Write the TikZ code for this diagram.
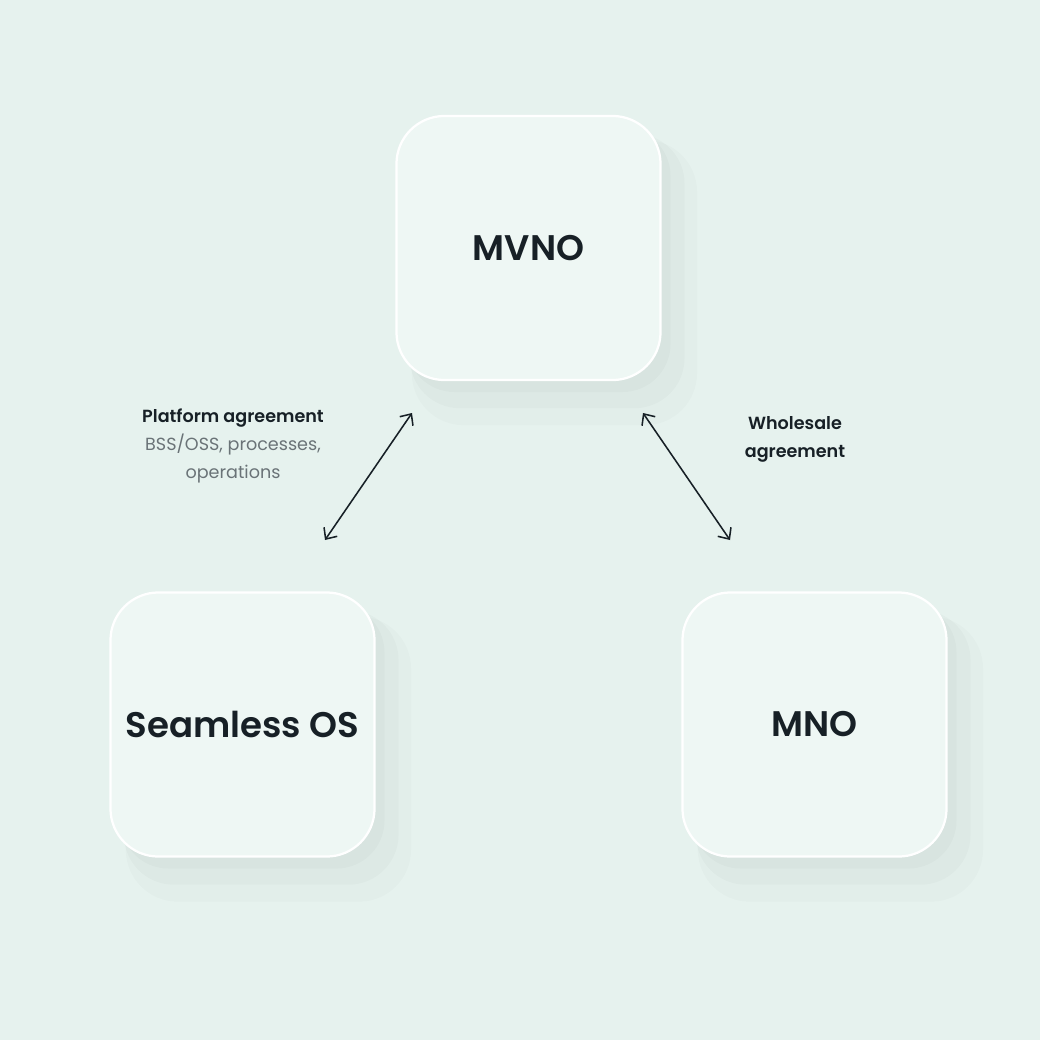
\documentclass[tikz,border=0pt]{standalone}
\usepackage{fontspec}
\setmainfont{Poppins}[BoldFont=Poppins SemiBold]
\usepackage{tikz}
\usetikzlibrary{arrows.meta, positioning, shadows}

\definecolor{bgmint}{HTML}{E6F2EE}
\definecolor{boxfill}{HTML}{EEF7F4}
\definecolor{inkdark}{HTML}{172026}
\definecolor{inkgray}{HTML}{6A7377}

\tikzset{
  tile/.style={draw=white, line width=1.6pt, fill=boxfill, rounded corners=1.2cm,
    minimum width=6.6cm, minimum height=6.6cm, text=inkdark,
    font=\fontsize{25.3}{30}\selectfont\bfseries,
    drop shadow={shadow xshift=0.6cm, shadow yshift=-0.8cm, shadow scale=1.08, opacity=0.015, fill=black},
    drop shadow={shadow xshift=0.45cm, shadow yshift=-0.55cm, shadow scale=1.04, opacity=0.02, fill=black},
    drop shadow={shadow xshift=0.25cm, shadow yshift=-0.3cm, opacity=0.02, fill=black}},
  tag/.style={align=center, text=inkdark, font=\fontsize{12.5}{20}\selectfont},
  link/.style={{Straight Barb[length=2.2mm,width=4mm]}-{Straight Barb[length=2.2mm,width=4mm]}, line width=1.1pt, inkdark}
}

\begin{document}
\begin{tikzpicture}[x=0.025cm, y=-0.025cm]

% frame
\fill[bgmint] (0,0) rectangle (1040,1040);
\useasboundingbox (0,0) rectangle (1040,1040);

% nodes
\node[tile] (mvno) at (528.5, 248) {MVNO};
\node[tile] (seam) at (242.5, 724.5) {Seamless OS};
\node[tile] (mno) at (814.5, 724.5) {MNO};

\node[tag] (plat) at (233, 446) {\textbf{Platform agreement}\\
  \textcolor{inkgray}{BSS/OSS, processes,}\\
  \textcolor{inkgray}{operations}};
\node[tag] (whole) at (795, 439) {\textbf{Wholesale}\\\textbf{agreement}};

\coordinate (pA) at (412, 413);
\coordinate (pB) at (325, 540);
\coordinate (wA) at (643, 413);
\coordinate (wB) at (730, 540);

% arrows
\draw[link] (pA) -- (pB);
\draw[link] (wA) -- (wB);

\end{tikzpicture}
\end{document}
